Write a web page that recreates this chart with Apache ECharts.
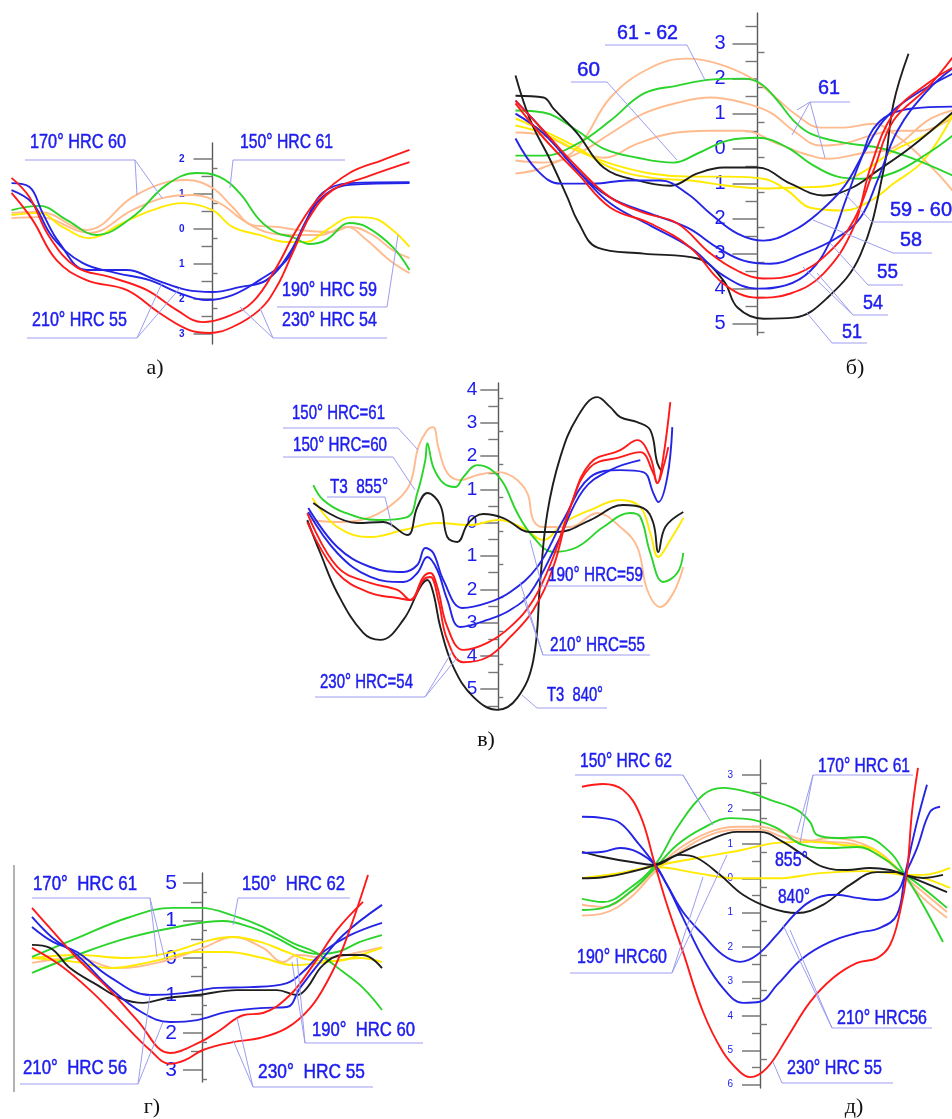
<!DOCTYPE html>
<html>
<head>
<meta charset="utf-8">
<title>Profile deviation after tempering</title>
<script src="https://cdn.jsdelivr.net/npm/echarts@6/dist/echarts.min.js"></script>
<style>
  html, body { margin: 0; padding: 0; background: #ffffff; }
  #chart { width: 952px; height: 1119px; }
</style>
</head>
<body>
<div id="chart"></div>
<script>
// ---------- measured profiles: [position, deviation] ----------
// panel а
const A_green   = [[-20.1,0.54],[-17.3,0.66],[-14.6,0.26],[-11.6,-0.17],[-8,0.34],[-4.6,1.26],[-1.6,1.6],[0.7,1.49],[2.7,1.03],[4.7,0.26],[6.4,-0.11],[8,-0.23],[9.7,-0.43],[11.4,-0.31],[13.7,0.17],[15.4,0.06],[18,-0.51],[19.7,-1.17]];
const A_orange1 = [[-20.1,0.46],[-17.3,0.49],[-12.6,-0.03],[-8,0.91],[-4.6,1.34],[-2.6,1.4],[0,1.17],[2,0.63],[4,0.11],[6.4,0.06],[8.7,-0.03],[12,-0.09],[13.7,0.06],[16,-0.17],[18,-0.6],[19.7,-0.83]];
const A_orange2 = [[-20.1,0.31],[-17.3,0.34],[-12.3,-0.11],[-8,0.54],[-4.6,0.91],[-2,0.97],[0.7,0.74],[3,0.26],[5.4,-0.09],[8,-0.17],[10.7,-0.17],[13.4,0.06],[15.4,-0.31],[17.7,-0.89],[19.7,-1.26]];
const A_yellow  = [[-20.1,0.4],[-17.3,0.46],[-15,0.06],[-12.3,-0.26],[-9,0.17],[-6,0.54],[-3,0.74],[0,0.54],[2,0.06],[4.7,-0.17],[7.4,-0.37],[9.4,-0.37],[11.4,-0.03],[14,0.34],[16,0.31],[18,-0.03],[19.7,-0.51]];
const A_blue1   = [[-20.1,1.31],[-18.3,1.2],[-17,0.46],[-15.3,-0.4],[-12.6,-1.17],[-8.6,-1.17],[-5.6,-1.46],[-2.6,-1.74],[0,-1.8],[2.7,-1.66],[5.4,-1.46],[7.7,-0.69],[9.4,0.26],[11,1.03],[13.7,1.31],[19.7,1.34]];
const A_blue2   = [[-20.1,1.11],[-18,0.74],[-16,-0.23],[-13,-0.97],[-9.6,-1.26],[-6.3,-1.46],[-3.3,-1.83],[-0.6,-2.03],[2,-1.89],[4.7,-1.46],[7.4,-0.89],[9,-0.03],[10.7,0.83],[13.7,1.26],[19.7,1.31]];
const A_red1    = [[-20.1,1.46],[-18.3,0.91],[-16.3,-0.23],[-13.6,-1.09],[-10.3,-1.37],[-6.6,-1.74],[-3.6,-2.31],[-1,-2.66],[1.4,-2.51],[4,-2.09],[6.4,-1.09],[8.4,-0.03],[10.7,0.91],[13.7,1.6],[17,1.97],[19.7,2.26]];
const A_red2    = [[-20.1,1.03],[-18,0.26],[-15.6,-0.89],[-12.6,-1.46],[-8.6,-1.74],[-5.3,-2.4],[-2.3,-2.89],[-0.3,-2.97],[2,-2.8],[4.7,-2.31],[6.4,-1.66],[8,-0.69],[9.7,0.34],[12,1.11],[15.4,1.49],[19.7,1.91]];

// panel б
const B_black51 = [[-24.2,2.09],[-22.7,0.8],[-20.7,-0.34],[-19,-1.4],[-18,-2.06],[-16,-2.83],[-11.4,-3],[-6,-3.14],[-3.4,-3.77],[-2,-4.54],[0.6,-4.86],[3.6,-4.83],[7,-4.26],[10.3,-3.03],[12.6,-0.63],[13.6,1.29],[15.1,2.71]];
const B_black2  = [[-24.2,1.51],[-21.4,1.46],[-20.4,1.14],[-18,0.43],[-15.4,-0.54],[-12,-0.91],[-8.7,-1.06],[-6,-0.71],[-3.4,-0.54],[0,-0.54],[3.3,-1],[6.6,-1.34],[9.3,-1.14],[12,-0.63],[15.3,0.03],[19.5,1.03]];
const B_greenHi = [[-24.2,-0.2],[-21.4,-0.2],[-18,0.14],[-14.7,0.8],[-11.4,1.57],[-8,1.8],[-4.7,1.97],[-1.4,2],[0.3,1.86],[2,1.37],[3.6,0.8],[5.3,0.43],[8.6,0.17],[12,0.03],[15.3,-0.26],[19.5,-0.77]];
const B_greenLo = [[-24.2,1.09],[-21.4,1.03],[-18,0.51],[-15.4,0],[-12,-0.26],[-8.4,-0.4],[-6,-0.14],[-3,0.23],[0,0.31],[3,0.03],[5.3,-0.43],[8,-0.8],[10.3,-0.86],[13.6,-0.69],[17,-0.14],[19.5,0.37]];
const B_orangeA = [[-24.2,-0.71],[-21.4,-0.54],[-18,0.03],[-14.7,1.46],[-10.7,2.31],[-7,2.57],[-4,2.43],[-0.7,2.03],[1.6,1.51],[4,0.94],[6.3,0.6],[8.6,0.6],[11.6,0.71],[13.6,0.43],[16,-0.14],[18,-0.71],[19.5,-1.2]];
const B_orangeB = [[-24.2,-0.34],[-21.4,-0.4],[-18,-0.14],[-14.7,0.43],[-11.4,1],[-8,1.31],[-4.7,1.46],[-1.4,1.31],[1.3,1.03],[3.6,0.51],[6.3,0.09],[8.6,0.14],[11.3,0.37],[13.6,0.51],[16.3,0.51],[19.5,0.89]];
const B_orangeC = [[-24.2,0.46],[-21.4,0.37],[-18,-0.06],[-15.4,-0.26],[-12,0.14],[-8.7,0.43],[-4.7,0.51],[-1.4,0.51],[2,0.14],[4.6,-0.14],[7,-0.29],[10.3,-0.14],[13.6,0.03],[17,0.8],[19.5,1.09]];
const B_yellowA = [[-24.2,0.66],[-21.4,0.43],[-18,-0.06],[-14.7,-0.43],[-10.7,-0.71],[-6.7,-0.8],[-3,-0.8],[0.6,-0.86],[3,-1.2],[5.3,-1.69],[8.6,-1.77],[11.3,-1.49],[13.6,-1],[16.6,-0.34],[19.5,0.94]];
const B_yellowB = [[-24.2,0.86],[-21.4,0.51],[-18,0.03],[-14.7,-0.54],[-10.7,-0.83],[-6.7,-0.91],[-3,-1.06],[0.6,-1.14],[4,-1.11],[7.3,-1.06],[10.3,-0.71],[13.6,-0.06],[17,0.43],[19.5,1]];
const B_blueA   = [[-24.2,0.29],[-22,-0.63],[-19.7,-1],[-16.4,-1],[-13,-0.91],[-9.7,-0.91],[-7,-1.29],[-4.7,-1.86],[-2,-2.43],[0.6,-2.63],[3.6,-2.34],[6,-1.86],[8.6,-1.11],[10.6,-0.14],[12.6,0.8],[15.3,1.46],[19.5,2.14]];
const B_blueB   = [[-24.2,1.37],[-21.4,0.51],[-18,-0.63],[-14.7,-1.4],[-10.7,-1.86],[-7,-2.26],[-4,-2.83],[-1.4,-3.2],[1.3,-3.29],[4.6,-3],[8,-2.54],[10.3,-1.97],[12,-0.91],[14,0.51],[17,1.66],[19.5,2.29]];
const B_blueC   = [[-24.2,1],[-21.4,0.43],[-18,-0.63],[-14.7,-1.57],[-10.7,-2.2],[-6.7,-2.83],[-3.4,-3.63],[0,-4],[2.8,-3.91],[5.3,-3.49],[7.3,-2.63],[8.8,-1.49],[10.3,-0.34],[12,0.71],[15.3,1.14],[19.5,1.2]];
const B_redA    = [[-24.2,1.37],[-21.4,0.51],[-18,-0.54],[-14.7,-1.4],[-11.4,-1.83],[-8,-2.14],[-4.7,-3],[-2,-3.49],[0.6,-3.71],[4,-3.57],[7,-3],[9.6,-2.06],[11.6,-0.63],[13.6,0.8],[17,1.74],[19.5,2.6]];
const B_redB    = [[-24.2,1.29],[-21.4,0.31],[-18,-0.71],[-14.7,-1.69],[-10.7,-2.14],[-6.7,-2.83],[-3.4,-3.86],[0,-4.26],[3.3,-4.14],[6.6,-3.57],[9.6,-2.26],[11.3,-0.54],[13.6,1],[17,1.86],[19.5,2.31]];

// panel в
const C_green    = [[-18.5,1.13],[-17.5,0.68],[-15.5,0.32],[-12.1,0.08],[-9.1,0.17],[-8.1,0.89],[-7.3,1.88],[-7.1,2.39],[-6.5,1.67],[-5.5,1.19],[-4.3,1.07],[-3.5,1.37],[-2.1,1.73],[-0.8,1.61],[0.5,1.19],[1.9,0.29],[3.5,-0.43],[5.5,-0.88],[7.9,-0.73],[10.5,-0.13],[13.2,0.29],[14.2,0.17],[15.2,-0.91],[16.5,-1.78],[17.9,-1.51],[18.5,-0.91]];
const C_orange   = [[-18.8,0.08],[-16.1,0.02],[-12.8,0.17],[-10.1,0.68],[-8.8,1.19],[-8,2.27],[-7.1,2.78],[-6.5,2.87],[-6,2.27],[-5.1,1.49],[-3.8,1.28],[-2.1,1.43],[-0.1,1.52],[1.5,1.37],[2.9,0.89],[3.5,0.08],[4.5,-0.13],[7.2,-0.13],[9.9,0.29],[12.2,-0.13],[13.9,-0.73],[14.9,-2.02],[16.2,-2.53],[17.5,-2.11],[18.5,-1.33]];
const C_yellow   = [[-18.6,0.74],[-16.1,-0.13],[-12.8,-0.43],[-9.5,-0.22],[-6.1,-0.01],[-2.8,-0.07],[0,0.08],[2.5,-0.16],[4.5,-0.52],[6.5,-0.01],[9.2,0.38],[12.2,0.68],[14.2,0.47],[15.2,-0.31],[16,-1.03],[17.2,-0.52],[18.5,0.14]];
const C_black855 = [[-18.5,0.59],[-14.1,-0.01],[-11.5,0.02],[-9.1,-0.37],[-8.1,0.47],[-7.1,0.89],[-5.8,0.53],[-5.1,-0.43],[-4.1,-0.58],[-3,-0.01],[-1.5,0.26],[0.5,0.14],[3.2,-0.28],[5.9,-0.28],[9.2,0.08],[12.5,0.53],[14.5,0.44],[15.5,-0.01],[16,-0.88],[16.7,-0.13],[18.5,0.32]];
const C_black840 = [[-19.1,0.08],[-17.8,-0.91],[-16.1,-2.11],[-13.5,-3.31],[-11.8,-3.52],[-9.5,-2.92],[-7.8,-1.93],[-7.1,-1.72],[-6.5,-2.11],[-5.8,-3.13],[-4.5,-4.33],[-2.5,-5.23],[-0.1,-5.62],[1.9,-5.26],[3.5,-4.13],[4.2,-1.72],[4.9,0.29],[6.2,1.97],[7.9,3.17],[9.9,3.77],[11.2,3.47],[12.2,3.17],[13.9,3.02],[15.2,2.78],[15.9,1.79],[16.4,1.52]];
const C_blue1    = [[-19,0.44],[-16.1,-0.73],[-12.8,-1.33],[-9.5,-1.48],[-8.1,-1.27],[-7.3,-0.76],[-6.5,-0.91],[-5.5,-1.72],[-3.6,-2.56],[-1.1,-2.41],[1.2,-2.08],[3.9,-1.33],[6.5,0.08],[9.2,1.37],[12.2,1.58],[14.5,1.52],[15.5,0.89],[16,0.62],[16.9,1.37],[17.4,2.87]];
const C_blue2    = [[-19,0.32],[-16.1,-0.91],[-12.8,-1.63],[-9.5,-1.78],[-8.1,-1.51],[-7.1,-1.03],[-6.1,-1.42],[-5.1,-2.32],[-3.8,-3.13],[-1.1,-2.92],[1.2,-2.62],[3.2,-2.11],[5.9,-0.61],[8.5,0.98],[11.2,1.58],[14.2,1.88]];
const C_red1     = [[-19.1,0.29],[-16.1,-1.33],[-12.8,-1.81],[-10.1,-2.02],[-8.8,-2.32],[-7.5,-1.63],[-6.8,-1.51],[-6.1,-1.93],[-5.1,-3.13],[-3.5,-3.82],[-1.1,-3.61],[1.2,-3.13],[3.5,-2.32],[5.5,-1.03],[7.2,0.47],[9.2,1.79],[12.2,2.18],[13.9,2.48],[15.2,1.97],[15.9,1.19],[16.5,1.97],[17.2,3.62]];
const C_red2     = [[-19.1,0.02],[-16.1,-1.51],[-12.8,-2.11],[-10.1,-2.26],[-8.8,-2.32],[-7.5,-1.72],[-6.8,-1.63],[-6,-2.32],[-5.1,-3.52],[-3.5,-4.19],[-1.1,-4.04],[1.2,-3.43],[3.5,-2.62],[5.5,-1.33],[7.2,0.47],[9.2,1.67],[12.2,1.97],[14.2,2.12],[15.5,1.49],[15.9,1.19],[16.5,1.67],[17,2.27]];

// panel г
const D_greenA  = [[-17,0.03],[-12.5,0.53],[-7.5,1.07],[-2.9,1.34],[-0.2,1.34],[3.5,1.1],[6.1,0.83],[9.1,0.4],[11.5,0.13],[14.1,-0.37],[16.1,-0.8],[18,-1.39]];
const D_greenB  = [[-17,-0.4],[-12.5,0.08],[-7.5,0.53],[-2.5,0.83],[2.1,0.99],[4.8,0.83],[7.5,0.53],[9.8,0.21],[11.5,0.11],[13.5,0.16],[15.8,0.43],[18,0.61]];
const D_yellowA = [[-17,0],[-12.5,0.08],[-7.5,0],[-3.5,0.13],[0.8,0.48],[3.1,0.56],[5.8,0.43],[8.5,0.16],[10.8,-0.05],[13.5,-0.08],[15.8,0.08],[18,0.27]];
const D_yellowB = [[-17,0],[-12.5,-0.11],[-9.2,-0.27],[-5.2,-0.11],[-0.5,0.16],[2.5,0.16],[6.1,0],[9.1,-0.19],[12.5,-0.11],[15.8,0],[18,-0.11]];
const D_orange  = [[-17,-0.13],[-12.5,0],[-8.5,-0.27],[-4.2,-0.11],[0.1,0.27],[3.1,0.56],[6.1,0.27],[8.1,-0.11],[9.5,0.08],[12.5,0],[15.8,0.16],[18,0.29]];
const D_black   = [[-17,0.35],[-15.2,0.27],[-13.2,-0.27],[-10.5,-0.72],[-8.2,-1.07],[-5.9,-1.2],[-3.5,-1.07],[-0.5,-0.99],[3.5,-0.86],[7.5,-0.86],[9.5,-0.99],[10.5,-0.8],[12.1,-0.19],[14.1,0.08],[16.1,0.08],[18,-0.27]];
const D_blueA   = [[-17,0.83],[-14.9,0.43],[-12.5,0.16],[-9.2,-0.51],[-5.2,-0.99],[-1.9,-0.94],[1.5,-0.8],[4.8,-0.78],[8.5,-0.67],[10.1,-0.37],[12.1,0.16],[14.8,0.61],[18,0.94]];
const D_blueB   = [[-17,1.1],[-14.9,0.53],[-12.5,0.08],[-9.2,-0.8],[-5.9,-1.47],[-3.2,-1.71],[-0.5,-1.66],[2.5,-1.44],[5.8,-1.34],[8.5,-1.31],[9.8,-0.8],[11.8,-0.11],[14.1,0.61],[18,1.42]];
const D_red1    = [[-17,1.34],[-15.2,0.8],[-12.5,0],[-9.2,-0.86],[-6.5,-1.66],[-3.2,-2.54],[-0.2,-2.25],[1.8,-1.93],[4.1,-1.53],[6.1,-1.47],[8.8,-0.99],[11.1,-0.19],[13.5,0.75],[16.1,1.5]];
const D_red2    = [[-17,0.27],[-14.2,-0.19],[-11.2,-0.86],[-8.2,-1.66],[-5.2,-2.46],[-3.2,-2.83],[-1.7,-2.73],[0.1,-2.46],[3.1,-2.25],[5.8,-2.14],[8.5,-1.87],[10.8,-1.34],[12.5,-0.64],[14.1,0.27],[16.6,2.22]];

// panel д
const E_red      = [[-17.8,2.66],[-15.7,2.74],[-13.7,2.57],[-12,1.85],[-10.5,0.39],[-9.3,-0.77],[-7.7,-2.14],[-5.7,-3.88],[-3.7,-5.05],[-2,-5.63],[-1,-5.78],[0.7,-5.51],[2.7,-4.64],[5,-3.6],[7.3,-2.9],[9.7,-2.46],[11.7,-2.32],[13,-1.94],[14,-0.98],[14.7,0.18],[15.2,1.93],[15.8,3.21]];
const E_blueA    = [[-17.8,1.79],[-15.7,1.75],[-14,1.61],[-12.3,1.06],[-10.5,0.39],[-9.3,-0.19],[-7.7,-1.15],[-5.7,-2.32],[-3.7,-3.19],[-1.7,-3.62],[0,-3.59],[1.7,-3.1],[4.3,-2.32],[7,-1.85],[9.7,-1.59],[12,-1.44],[13.7,-1.06],[14.5,0.1],[15.7,1.64],[16.7,2.72]];
const E_blueB    = [[-17.8,0.74],[-15.7,0.77],[-14,0.88],[-12.3,0.77],[-10.5,0.39],[-9.3,-0.19],[-7.7,-0.98],[-5.7,-1.64],[-3.7,-2.23],[-2,-2.43],[-0.3,-2.23],[1.7,-1.64],[3.7,-0.98],[5.7,-0.57],[7.7,-0.48],[9.7,-0.57],[11.7,-0.63],[13.7,-0.4],[14.5,0.1],[15.7,0.88],[17,1.93],[18,2.08]];
const E_greenA   = [[-17.8,-0.6],[-15.7,-0.69],[-13,-0.28],[-10.5,0.39],[-8.3,1.46],[-5.7,2.42],[-3.7,2.63],[-1,2.49],[1,2.28],[3.7,1.99],[5,1.64],[5.7,1.26],[7.7,1.17],[10.3,1.2],[13,0.76],[14.5,0.1],[16.3,-0.77],[18.3,-1.85]];
const E_greenB   = [[-17.8,-0.92],[-15.7,-0.86],[-13,-0.4],[-10.5,0.3],[-8.3,0.97],[-5.7,1.46],[-3,1.75],[-0.7,1.7],[1.7,1.46],[4.3,0.97],[7,0.88],[9.7,0.91],[12.3,0.59],[14.3,0.15],[16.3,-0.28],[18.7,-0.86]];
const E_orangeA  = [[-17.8,-0.77],[-15.7,-0.83],[-13,-0.42],[-10.5,0.24],[-8,0.88],[-5,1.35],[-2.3,1.5],[0,1.5],[2.3,1.32],[4.3,1.12],[7,1.06],[9.7,0.97],[12.3,0.59],[14.5,0.04],[16.3,-0.4],[18.7,-0.98]];
const E_orangeB  = [[-17.8,-1.08],[-15.7,-1.02],[-13,-0.57],[-10.5,0.18],[-8,0.77],[-5,1.26],[-2.3,1.41],[0,1.41],[2.3,1.2],[4.3,1.06],[7,1.17],[9.7,1.06],[12.3,0.68],[14.5,0.01],[16.3,-0.57],[18.7,-1.15]];
const E_black855 = [[-17.8,0],[-15.7,0.03],[-13,0.18],[-10.5,0.39],[-7.7,0.77],[-5,1.12],[-2.3,1.35],[0,1.35],[2.3,1.06],[4.3,0.68],[6.3,0.33],[8.7,0.24],[11,0.3],[13,0.24],[14.5,0.1],[16.3,0.01],[18.3,0.1]];
const E_black840 = [[-17.8,0.77],[-15.7,0.62],[-13,0.48],[-10.5,0.39],[-8,0.68],[-6.3,0.59],[-4,0.1],[-1.7,-0.48],[1,-0.86],[3.7,-1.01],[6.3,-0.77],[9,-0.19],[11.7,0.18],[13.7,0.18],[14.5,0.1],[16.3,-0.11],[18.7,-0.4]];
const E_yellowA  = [[-17.8,0],[-14,0.15],[-10.5,0.36],[-5.7,0.62],[-1.7,0.83],[1.7,1.03],[5,1.06],[8.3,0.97],[11,0.88],[13,0.48],[14.5,0.1],[16.3,0.01],[19,-0.28]];
const E_yellowB  = [[-17.8,0],[-14,0.15],[-10.5,0.33],[-6.3,0.15],[-2.3,0],[1.7,0],[6,0.15],[10.3,0.21],[13,0.15],[14.5,0.1],[16.3,0.1],[19,0.3]];

// ---------- axis tick values and their printed labels ----------
const A_ticks = [2, 1, 0, -1, -2, -3];
const A_tickText = ['2', '1', '0', '1', '2', '3'];
const B_ticks = [3, 2, 1, 0, -1, -2, -3, -4, -5];
const B_tickText = ['3', '2', '1', '0', '1', '2', '3', '4', '5'];
const C_ticks = [4, 3, 2, 1, 0, -1, -2, -3, -4, -5];
const C_tickText = ['4', '3', '2', '1', '0', '1', '2', '3', '4', '5'];
const D_ticks = [2, 1, 0, -1, -2, -3];
const D_tickText = ['5', '1', '0', '1', '2', '3'];
const E_ticks = [3, 2, 1, 0, -1, -2, -3, -4, -5, -6];
const E_tickText = ['3', '2', '1', '0', '1', '2', '3', '4', '5', '6'];

// ---------- styles ----------
const RED = '#ff1a1a', BLUE = '#2424e6', GREEN = '#2bd42b', ORANGE = '#ffbb8e', YELLOW = '#ffea00', BLACK = '#1e1e1e';
const TEXT_BLUE = '#1c1cee', LEADER = '#9d9df0', AXIS = '#5a5a5a', TICK = '#777777';
const SANS = '"Liberation Sans", Arial, sans-serif';
const SERIF = '"Liberation Serif", "Times New Roman", serif';
const PX_PER_X = 10;
const CURVE_WIDTH = 1.9;

// ---------- panel layout ----------
const PANELS = [
  { axisX: 212.5, zero: 229, unit: 35, top: 143, bottom: 344, xMin: -21, xMax: 20,
    ticks: A_ticks, tickText: A_tickText, tickLen: [19, 11, 5],
    label: { size: 10, weight: 'bold', margin: 28, pad: 0 },
    curves: [[A_orange1, ORANGE], [A_orange2, ORANGE], [A_yellow, YELLOW], [A_green, GREEN],
             [A_blue1, BLUE], [A_blue2, BLUE], [A_red1, RED], [A_red2, RED]] },
  { axisX: 757.5, zero: 148.6, unit: 35, top: 13, bottom: 335, xMin: -24.5, xMax: 19.5,
    ticks: B_ticks, tickText: B_tickText, tickLen: [25, 12, 7],
    label: { size: 20, weight: 'normal', margin: 32, pad: 9 },
    curves: [[B_orangeA, ORANGE], [B_orangeB, ORANGE], [B_orangeC, ORANGE], [B_yellowA, YELLOW], [B_yellowB, YELLOW],
             [B_greenHi, GREEN], [B_greenLo, GREEN], [B_black2, BLACK], [B_black51, BLACK],
             [B_blueA, BLUE], [B_blueB, BLUE], [B_blueC, BLUE], [B_redA, RED], [B_redB, RED]] },
  { axisX: 498.3, zero: 522.7, unit: 33.3, top: 383, bottom: 710, xMin: -19.5, xMax: 19,
    ticks: C_ticks, tickText: C_tickText, tickLen: [18, 10, 5],
    label: { size: 19, weight: 'normal', margin: 21, pad: 0 },
    curves: [[C_orange, ORANGE], [C_yellow, YELLOW], [C_green, GREEN], [C_black855, BLACK], [C_black840, BLACK],
             [C_blue1, BLUE], [C_blue2, BLUE], [C_red1, RED], [C_red2, RED]] },
  { axisX: 202, zero: 958, unit: 37.4, top: 873, bottom: 1082, xMin: -17.5, xMax: 18.5,
    ticks: D_ticks, tickText: D_tickText, tickLen: [19, 11, 5],
    label: { size: 21, weight: 'normal', margin: 25, pad: 10 },
    curves: [[D_orange, ORANGE], [D_yellowA, YELLOW], [D_yellowB, YELLOW], [D_greenA, GREEN], [D_greenB, GREEN],
             [D_black, BLACK], [D_blueA, BLUE], [D_blueB, BLUE], [D_red1, RED], [D_red2, RED]] },
  { axisX: 760, zero: 878.3, unit: 34.4, top: 760, bottom: 1088, xMin: -18, xMax: 19.5,
    ticks: E_ticks, tickText: E_tickText, tickLen: [18, 8, 7],
    label: { size: 10, weight: 'normal', margin: 27, pad: 0 },
    curves: [[E_orangeA, ORANGE], [E_orangeB, ORANGE], [E_yellowA, YELLOW], [E_yellowB, YELLOW],
             [E_greenA, GREEN], [E_greenB, GREEN], [E_black855, BLACK], [E_black840, BLACK],
             [E_blueA, BLUE], [E_blueB, BLUE], [E_red, RED]] }
];

// ---------- callouts: text, left x, middle y, width, underline [x1,x2,y], leader segments ----------
const NOTES = [
  // а
  { t: '170° HRC 60', x: 30,  y: 142, w: 96, u: [25, 135, 160],  l: [[135,160,137,195],[135,160,162,198]] },
  { t: '150° HRC 61', x: 240, y: 142, w: 93, u: [233, 345, 160], l: [[233,160,230,188]] },
  { t: '210° HRC 55', x: 32,  y: 320, w: 95, u: [27, 137, 338],  l: [[137,338,162,283],[137,338,180,288]] },
  { t: '190° HRC 59', x: 282, y: 290, w: 95, u: [277, 387, 307], l: [[387,307,398,235]] },
  { t: '230° HRC 54', x: 282, y: 320, w: 95, u: [273, 387, 338], l: [[273,338,240,307],[273,338,260,308]] },
  // б
  { t: '61 - 62', x: 617, y: 33,  w: 61, u: [605, 687, 45],  l: [[687,45,705,80]] },
  { t: '60',      x: 577, y: 70,  w: 23, u: [571, 607, 82],  l: [[607,82,677,160]] },
  { t: '61',      x: 818, y: 88,  w: 22, u: [810, 850, 102], l: [[810,102,797,110],[810,102,792,135],[810,102,825,158]] },
  { t: '59 - 60', x: 890, y: 210, w: 62, u: [872, 952, 222], l: [[872,222,843,192]] },
  { t: '58',      x: 900, y: 240, w: 22, u: [893, 932, 253], l: [[893,253,813,220]] },
  { t: '55',      x: 877, y: 272, w: 21, u: [868, 903, 285], l: [[868,285,830,243]] },
  { t: '54',      x: 863, y: 303, w: 20, u: [853, 888, 315], l: [[853,315,817,273],[853,315,803,267]] },
  { t: '51',      x: 842, y: 332, w: 20, u: [832, 867, 343], l: [[832,343,807,313]] },
  // в
  { t: '150° HRC=61', x: 292, y: 413, w: 93, u: [283, 398, 428], l: [[398,428,418,450]] },
  { t: '150° HRC=60', x: 293, y: 445, w: 94, u: [283, 393, 457], l: [[393,457,415,490]] },
  { t: 'T3  855°',    x: 330, y: 487, w: 58, u: [327, 385, 497], l: [[385,497,392,527]] },
  { t: '190° HRC=59', x: 548, y: 575, w: 95, u: [542, 643, 586], l: [[542,586,530,540]] },
  { t: '210° HRC=55', x: 550, y: 645, w: 95, u: [543, 650, 655], l: [[543,655,520,582],[543,655,523,597]] },
  { t: '230° HRC=54', x: 320, y: 682, w: 93, u: [315, 425, 697], l: [[425,697,453,650],[425,697,457,658]] },
  { t: 'T3  840°',    x: 547, y: 695, w: 56, u: [537, 607, 708], l: [[537,708,522,695]] },
  // г
  { t: '170°  HRC 61', x: 33,  y: 884,  w: 104, u: [32, 150, 898],   l: [[150,898,157,957],[150,898,165,959]] },
  { t: '150°  HRC 62', x: 242, y: 884,  w: 103, u: [238, 350, 898],  l: [[238,898,233,925]] },
  { t: '190°  HRC 60', x: 312, y: 1030, w: 103, u: [305, 423, 1043], l: [[305,1043,292,962],[305,1043,297,958]] },
  { t: '210°  HRC 56', x: 23,  y: 1068, w: 104, u: [20, 138, 1084],  l: [[138,1084,150,995],[138,1084,163,1022]] },
  { t: '230°  HRC 55', x: 258, y: 1072, w: 107, u: [253, 373, 1087], l: [[253,1087,233,1040],[253,1087,237,1018]] },
  // д
  { t: '150° HRC 62', x: 580, y: 761,  w: 92, u: [575, 683, 775],  l: [[683,775,713,825],[683,775,705,812]] },
  { t: '170° HRC 61', x: 818, y: 766,  w: 92, u: [813, 913, 775],  l: [[813,775,797,833],[813,775,800,843]] },
  { t: '855°',        x: 775, y: 860,  w: 33 },
  { t: '840°',        x: 778, y: 897,  w: 32 },
  { t: '190° HRC60',  x: 577, y: 957,  w: 90, u: [570, 672, 973],  l: [[672,973,727,855],[672,973,703,877]] },
  { t: '210° HRC56',  x: 837, y: 1018, w: 90, u: [832, 932, 1028], l: [[832,1028,790,930],[832,1028,783,925]] },
  { t: '230° HRC 55', x: 787, y: 1068, w: 95, u: [782, 893, 1083], l: [[782,1083,773,1062]] }
];
const NOTE_SIZE = 21;

const CAPTIONS = [
  { t: 'а)', x: 155, y: 368 }, { t: 'б)', x: 855, y: 368 }, { t: 'в)', x: 486, y: 740 },
  { t: 'г)', x: 152, y: 1107 }, { t: 'д)', x: 854, y: 1107 }
];

// ---------- build ----------
const measureCtx = document.createElement('canvas').getContext('2d');
function textWidth(t, size) {
  measureCtx.font = size + 'px ' + SANS;
  return measureCtx.measureText(t).width;
}

const option = { animation: false, backgroundColor: '#ffffff', grid: [], xAxis: [], yAxis: [], series: [], graphic: [] };

PANELS.forEach(function (p, i) {
  const yMax = (p.zero - p.top) / p.unit;
  const yMin = (p.zero - p.bottom) / p.unit;
  const gridLeft = p.axisX + p.xMin * PX_PER_X;
  option.grid.push({
    show: false, containLabel: false, outerBoundsMode: 'none',
    left: gridLeft, width: (p.xMax - p.xMin) * PX_PER_X,
    top: p.top, height: p.bottom - p.top
  });
  option.xAxis.push({ type: 'value', gridIndex: i, min: p.xMin, max: p.xMax, show: false,
    axisLine: { onZero: false }, splitLine: { show: false } });

  // minor marks: half steps on the left, quarter marks on the right
  const halves = [], quarters = [];
  const top = Math.max.apply(null, p.ticks) + 1;
  for (let n = top; n >= Math.min.apply(null, p.ticks); n--) {
    if (n - 0.5 > yMin + 0.05 && n - 0.5 < yMax - 0.05) halves.push(n - 0.5);
    if (n - 0.25 > yMin + 0.05 && n - 0.25 < yMax - 0.15) quarters.push(n - 0.25);
  }
  const yBase = option.yAxis.length;
  // the vertical axis sits at position 0, inside the plot area
  const common = { type: 'value', gridIndex: i, min: yMin, max: yMax, position: 'left',
    offset: -(p.axisX - gridLeft), splitLine: { show: false }, minorTick: { show: false } };
  option.yAxis.push(Object.assign({}, common, {
    axisLine: { show: true, onZero: false, lineStyle: { color: AXIS, width: 1.4 } },
    axisTick: { show: true, customValues: p.ticks, length: p.tickLen[0], lineStyle: { color: TICK, width: 1.5 } },
    axisLabel: { show: true, customValues: p.ticks, margin: p.label.margin, color: TEXT_BLUE,
      fontSize: p.label.size, fontWeight: p.label.weight, fontFamily: SANS,
      padding: [p.label.pad, 0, 0, 0],
      formatter: function (v) {
        for (let k = 0; k < p.ticks.length; k++) if (Math.abs(p.ticks[k] - v) < 1e-6) return p.tickText[k];
        return '';
      } }
  }));
  option.yAxis.push(Object.assign({}, common, {
    axisLine: { show: false, onZero: false },
    axisTick: { show: true, customValues: halves, length: p.tickLen[1], lineStyle: { color: TICK, width: 1.4 } },
    axisLabel: { show: false }
  }));
  option.yAxis.push(Object.assign({}, common, {
    axisLine: { show: false, onZero: false },
    axisTick: { show: true, inside: true, customValues: quarters, length: p.tickLen[2], lineStyle: { color: TICK, width: 1.4 } },
    axisLabel: { show: false }
  }));

  p.curves.forEach(function (c) {
    option.series.push({
      type: 'line', xAxisIndex: i, yAxisIndex: yBase, data: c[0],
      smooth: 0.4, symbol: 'none', showSymbol: false, clip: false, silent: true,
      lineStyle: { color: c[1], width: CURVE_WIDTH }, emphasis: { disabled: true }
    });
  });
});

NOTES.forEach(function (n) {
  const natural = textWidth(n.t, NOTE_SIZE);
  option.graphic.push({
    type: 'text', x: n.x, y: n.y, scaleX: n.w / natural, scaleY: 1, silent: true, z: 20,
    style: { text: n.t, fontSize: NOTE_SIZE, fontFamily: SANS, fill: TEXT_BLUE,
      stroke: TEXT_BLUE, lineWidth: 0.5,
      align: 'left', verticalAlign: 'middle', textAlign: 'left', textVerticalAlign: 'middle' }
  });
  if (n.u) option.graphic.push({ type: 'line', silent: true, z: 19,
    shape: { x1: n.u[0], y1: n.u[2], x2: n.u[1], y2: n.u[2] }, style: { stroke: LEADER, lineWidth: 1 } });
  (n.l || []).forEach(function (s) {
    option.graphic.push({ type: 'line', silent: true, z: 19,
      shape: { x1: s[0], y1: s[1], x2: s[2], y2: s[3] }, style: { stroke: LEADER, lineWidth: 1 } });
  });
});

CAPTIONS.forEach(function (c) {
  option.graphic.push({ type: 'text', x: c.x, y: c.y, silent: true, z: 20,
    style: { text: c.t, fontSize: 22, fontFamily: SERIF, fill: '#111111',
      align: 'center', verticalAlign: 'middle', textAlign: 'center', textVerticalAlign: 'middle' } });
});

// frame edge at the left of panel г
option.graphic.push({ type: 'line', silent: true, z: 5,
  shape: { x1: 14, y1: 865, x2: 14, y2: 1092 }, style: { stroke: '#9a9a9a', lineWidth: 1.5 } });

const chart = echarts.init(document.getElementById('chart'), null, { renderer: 'canvas', width: 952, height: 1119 });
chart.setOption(option);
</script>
</body>
</html>
